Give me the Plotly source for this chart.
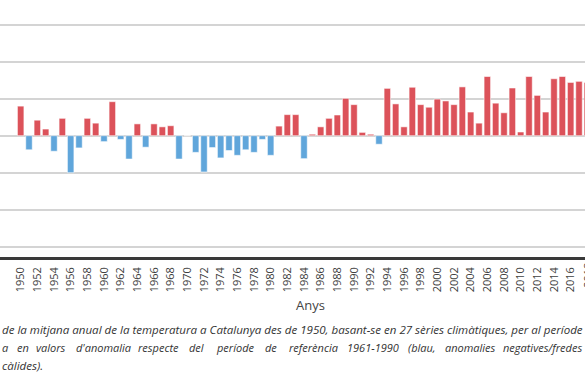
import plotly.graph_objects as go

years = list(range(1950, 2019))
anomalies = [
    0.40, -0.19, 0.21, 0.09, -0.21, 0.235, -0.50, -0.165, 0.235, 0.17,
    -0.08, 0.46, -0.05, -0.315, 0.16, -0.155, 0.16, 0.12, 0.135, -0.315,
    0.0, -0.225, -0.49, -0.16, -0.30, -0.20, -0.265, -0.19, -0.225, -0.05,
    -0.265, 0.13, 0.285, 0.285, -0.31, 0.02, 0.12, 0.235, 0.28, 0.505,
    0.42, 0.045, 0.02, -0.115, 0.64, 0.43, 0.12, 0.655, 0.42, 0.385,
    0.495, 0.47, 0.42, 0.66, 0.32, 0.17, 0.80, 0.44, 0.31, 0.645,
    0.05, 0.80, 0.545, 0.32, 0.77, 0.80, 0.72, 0.735, 0.72,
]
tick_years = list(range(1950, 2019, 2))
tick_labels = [str(y) for y in tick_years]
grid_values = [-1.5, -1.0, -0.5, 0.0, 0.5, 1.0, 1.5]

x_title = "Anys"
caption_line1 = "de la mitjana anual de la temperatura a Catalunya des de 1950, basant-se en 27 sèries climàtiques, per al període"
caption_line2_words = ["a", "en", "valors", "d'anomalia", "respecte", "del", "període", "de",
                       "referència", "1961-1990", "(blau,", "anomalies", "negatives/fredes"]
caption_line2_px = [0, 15, 34, 74, 136, 187, 214, 263, 287, 345, 406, 443, 501]
caption_line3 = "càlides)."

RED = "#dc525a"
BLUE = "#60a6db"
colors = [RED if v >= 0 else BLUE for v in anomalies]

W, H = 585, 390
PLOT_H = 257
X0, X1 = 1947.52, 2017.72

fig = go.Figure()
fig.add_trace(go.Bar(
    x=years, y=anomalies, width=0.78,
    marker=dict(color=colors, line=dict(color="rgba(255,255,255,0.55)", width=1)),
    showlegend=False, hoverinfo="x+y",
))

def py(p):
    return (PLOT_H - p) / PLOT_H

cap_font = dict(family="Open Sans", size=11.55, color="#333333")
line2_font = dict(family="Open Sans", size=11, color="#333333")
ann = []
ann.append(dict(text=x_title, x=310 / W, y=py(305), xref="paper", yref="paper",
                xanchor="center", yanchor="middle", showarrow=False,
                font=dict(family="Open Sans", size=13, color="#444444")))
ann.append(dict(text="<i>" + caption_line1 + "</i>", x=0, y=py(330), xref="paper", yref="paper",
                xanchor="left", yanchor="middle", showarrow=False, font=cap_font))
for w, p in zip(caption_line2_words, caption_line2_px):
    ann.append(dict(text="<i>" + w + "</i>", x=p / W, y=py(347.5), xref="paper", yref="paper",
                    xanchor="left", yanchor="middle", showarrow=False, font=line2_font))
ann.append(dict(text="<i>" + caption_line3 + "</i>", x=0, y=py(365), xref="paper", yref="paper",
                xanchor="left", yanchor="middle", showarrow=False, font=cap_font))

# last tick label, partly cut by the right edge as in the reference
last_year = tick_years[-1]
ann.append(dict(text=tick_labels[-1], x=(last_year - X0) / (X1 - X0), y=py(261), xref="paper", yref="paper",
                xanchor="center", yanchor="top", textangle=-90, showarrow=False,
                font=dict(family="Open Sans", size=11, color="#404040")))

fig.update_layout(
    width=W, height=H,
    margin=dict(l=0, r=0, t=0, b=H - PLOT_H, pad=0),
    paper_bgcolor="white", plot_bgcolor="white",
    annotations=ann,
    xaxis=dict(
        range=[X0, X1],
        tickmode="array", tickvals=tick_years, ticktext=tick_labels,
        tickangle=-90, tickfont=dict(family="Open Sans", size=11, color="#404040"),
        showgrid=False, zeroline=False,
        showline=True, linecolor="#3a3a3a", linewidth=2.5,
        ticks="", ticklabelstandoff=3,
    ),
    yaxis=dict(
        range=[-1.639, 1.834],
        tickmode="array", tickvals=grid_values,
        showticklabels=False,
        showgrid=True, gridcolor="#d4d4d4", gridwidth=2,
        zeroline=True, zerolinecolor="#d4d4d4", zerolinewidth=2,
        showline=False,
    ),
)

fig.write_html(
    "out.html",
    config={"displayModeBar": False},
    post_script="document.body.style.margin='0';document.body.style.padding='0';",
)
